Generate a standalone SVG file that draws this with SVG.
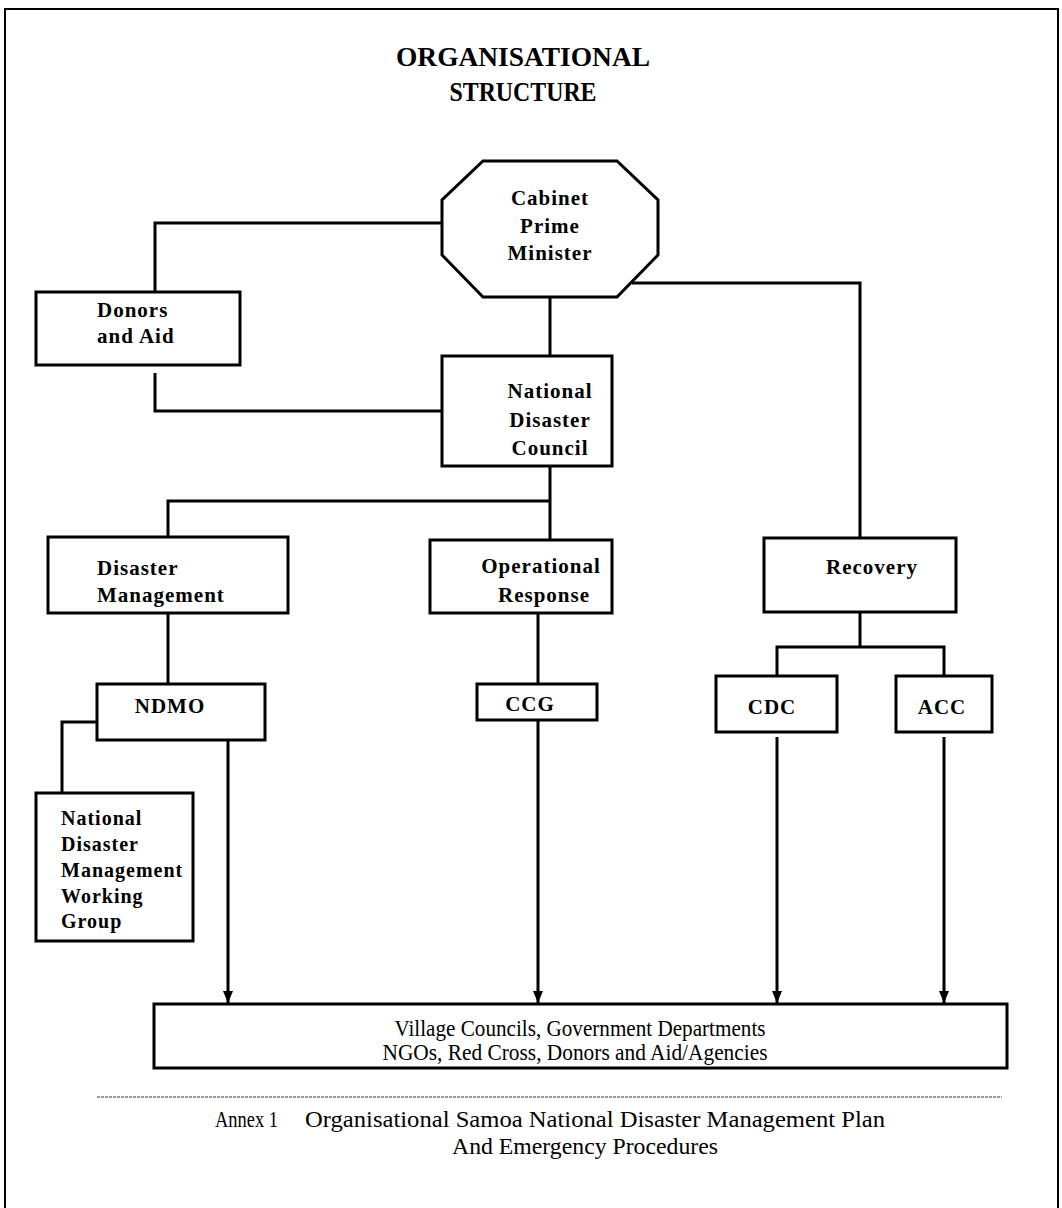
<svg xmlns="http://www.w3.org/2000/svg" width="1062" height="1208" viewBox="0 0 1062 1208">
<defs>
<style>
.box{fill:#fff;stroke:#000;stroke-width:3}
.ln{fill:none;stroke:#000;stroke-width:3}
.b{font-family:"Liberation Serif","Times New Roman",serif;font-weight:bold;font-size:21px;letter-spacing:1px;fill:#000}
.r{font-family:"Liberation Serif","Times New Roman",serif;font-size:23px;fill:#000}
.t{font-family:"Liberation Serif","Times New Roman",serif;font-weight:bold;font-size:27px;fill:#000}
</style>
<marker id="ah" viewBox="0 0 12 10" refX="12" refY="5" markerWidth="12" markerHeight="10" markerUnits="userSpaceOnUse" orient="auto">
<path d="M0,0 L12,5 L0,10 Z" fill="#000"/>
</marker>
</defs>
<rect x="0" y="0" width="1062" height="1208" fill="#fff"/>
<rect x="5" y="9" width="1053" height="1250" fill="none" stroke="#000" stroke-width="2"/>
<g id="title">
<text class="t" x="523" y="66" text-anchor="middle" textLength="254" lengthAdjust="spacingAndGlyphs">ORGANISATIONAL</text>
<text class="t" x="523" y="101" text-anchor="middle" textLength="147" lengthAdjust="spacingAndGlyphs">STRUCTURE</text>
</g>
<g id="connectors">
<polyline class="ln" points="442,223 155,223 155,292"/>
<polyline class="ln" points="155,373 155,411 442,411"/>
<line class="ln" x1="550" y1="297" x2="550" y2="356"/>
<polyline class="ln" points="632,283 860,283 860,538"/>
<line class="ln" x1="550" y1="466" x2="550" y2="540"/>
<polyline class="ln" points="550,501 168,501 168,537"/>
<line class="ln" x1="168" y1="613" x2="168" y2="683"/>
<line class="ln" x1="538" y1="613" x2="538" y2="683"/>
<line class="ln" x1="860" y1="612" x2="860" y2="647"/>
<polyline class="ln" points="777,676 777,647 944,647 944,676"/>
<polyline class="ln" points="97,722 62,722 62,793"/>
<line class="ln" x1="228" y1="740" x2="228" y2="1003" marker-end="url(#ah)"/>
<line class="ln" x1="538" y1="720" x2="538" y2="1003" marker-end="url(#ah)"/>
<line class="ln" x1="777" y1="737" x2="777" y2="1003" marker-end="url(#ah)"/>
<line class="ln" x1="944" y1="737" x2="944" y2="1003" marker-end="url(#ah)"/>
</g>
<g id="cabinet">
<polygon class="box" points="483,161 617,161 658,200 658,255 617,297 483,297 442,255 442,200"/>
<text class="b" x="550" y="205" text-anchor="middle">Cabinet</text>
<text class="b" x="550" y="233" text-anchor="middle">Prime</text>
<text class="b" x="550" y="260" text-anchor="middle">Minister</text>
</g>
<g id="donors">
<rect class="box" x="36" y="292" width="204" height="73"/>
<text class="b" x="97" y="317">Donors</text>
<text class="b" x="97" y="343">and Aid</text>
</g>
<g id="ndc">
<rect class="box" x="442" y="356" width="170" height="110"/>
<text class="b" x="550" y="398" text-anchor="middle">National</text>
<text class="b" x="550" y="427" text-anchor="middle">Disaster</text>
<text class="b" x="550" y="455" text-anchor="middle">Council</text>
</g>
<g id="disaster-management">
<rect class="box" x="48" y="537" width="240" height="76"/>
<text class="b" x="97" y="575">Disaster</text>
<text class="b" x="97" y="602">Management</text>
</g>
<g id="operational-response">
<rect class="box" x="430" y="540" width="182" height="73"/>
<text class="b" x="541" y="573" text-anchor="middle">Operational</text>
<text class="b" x="544" y="602" text-anchor="middle">Response</text>
</g>
<g id="recovery">
<rect class="box" x="764" y="538" width="192" height="74"/>
<text class="b" x="872" y="574" text-anchor="middle">Recovery</text>
</g>
<g id="ndmo">
<rect class="box" x="97" y="684" width="168" height="56"/>
<text class="b" x="170" y="713" text-anchor="middle">NDMO</text>
</g>
<g id="ccg">
<rect class="box" x="477" y="684" width="120" height="36"/>
<text class="b" x="530" y="711" text-anchor="middle">CCG</text>
</g>
<g id="cdc">
<rect class="box" x="716" y="676" width="121" height="56"/>
<text class="b" x="772" y="714" text-anchor="middle">CDC</text>
</g>
<g id="acc">
<rect class="box" x="896" y="676" width="96" height="56"/>
<text class="b" x="942" y="714" text-anchor="middle">ACC</text>
</g>
<g id="working-group">
<rect class="box" x="36" y="793" width="157" height="148"/>
<text class="b" x="61" y="825" style="font-size:20px">National</text>
<text class="b" x="61" y="851" style="font-size:20px">Disaster</text>
<text class="b" x="61" y="877" style="font-size:20px">Management</text>
<text class="b" x="61" y="903" style="font-size:20px">Working</text>
<text class="b" x="61" y="928" style="font-size:20px">Group</text>
</g>
<g id="village-councils">
<rect class="box" x="154" y="1004" width="853" height="64"/>
<text class="r" x="580" y="1036" text-anchor="middle" textLength="371" lengthAdjust="spacingAndGlyphs">Village Councils, Government Departments</text>
<text class="r" x="575" y="1060" text-anchor="middle" textLength="385" lengthAdjust="spacingAndGlyphs">NGOs, Red Cross, Donors and Aid/Agencies</text>
</g>
<g id="footer">
<line x1="97" y1="1097" x2="1002" y2="1097" stroke="#333" stroke-width="1" stroke-dasharray="3,1"/>
<text class="r" x="215" y="1127" textLength="63" lengthAdjust="spacingAndGlyphs">Annex 1</text>
<text class="r" x="305" y="1127" textLength="580" lengthAdjust="spacingAndGlyphs">Organisational Samoa National Disaster Management Plan</text>
<text class="r" x="452" y="1154" textLength="266" lengthAdjust="spacingAndGlyphs">And Emergency Procedures</text>
</g>
</svg>
